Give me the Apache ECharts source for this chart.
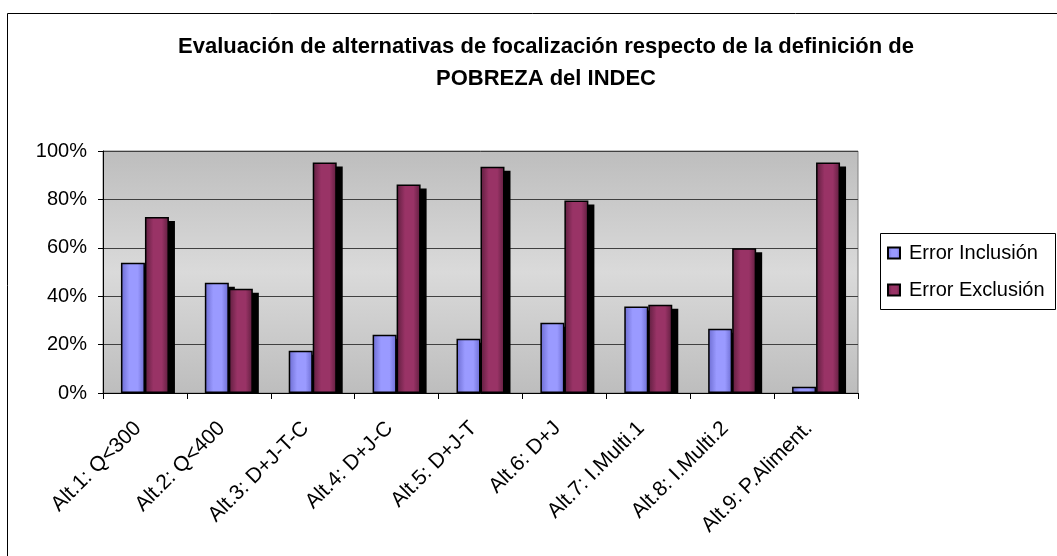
<!DOCTYPE html>
<html>
<head>
<meta charset="utf-8">
<script src="https://cdn.jsdelivr.net/npm/echarts@6/dist/echarts.min.js"></script>
<style>
html,body{margin:0;padding:0;background:#fff;}
#chart{width:1057px;height:556px;}
</style>
</head>
<body>
<div id="chart"></div>
<script>
// datos
var categorias = ['Alt.1: Q<300', 'Alt.2: Q<400', 'Alt.3: D+J-T-C', 'Alt.4: D+J-C', 'Alt.5: D+J-T', 'Alt.6: D+J', 'Alt.7: I.Multi.1', 'Alt.8: I.Multi.2', 'Alt.9: P.Aliment.'];
var errorInclusion = [53.8, 45.6, 17.5, 24.1, 22.4, 29.0, 35.7, 26.6, 2.6];
var errorExclusion = [72.7, 43.1, 95.2, 86.2, 93.5, 79.5, 36.5, 59.8, 95.2];
var nombres = ['Error Inclusión', 'Error Exclusión'];

var fuente = 'Liberation Sans, Arial, sans-serif';

function degradado(oscuro, claro) {
	return new echarts.graphic.LinearGradient(0, 0, 1, 0, [
		{offset: 0, color: oscuro},
		{offset: 0.35, color: claro},
		{offset: 0.7, color: claro},
		{offset: 1, color: oscuro}
	]);
}

// sombra negra de cada barra (desplazada a la derecha y abajo)
function sombra(lado) {
	return function(params, api) {
		var i = api.value(0);
		var arriba = api.coord([i, api.value(1)]);
		var base = api.coord([i, 0]);
		return {
			type: 'rect',
			shape: {x: arriba[0] + lado + 6, y: arriba[1] + 4, width: 24, height: base[1] - arriba[1] - 4},
			style: {fill: '#000'}
		};
	};
}

var datosSombra1 = errorInclusion.map(function(v, i) { return [i, v]; });
var datosSombra2 = errorExclusion.map(function(v, i) { return [i, v]; });

var myChart = echarts.init(document.getElementById('chart'));
var option = {
	backgroundColor: '#fff',
	animation: false,
	title: {
		text: 'Evaluación de alternativas de focalización respecto de la definición de\nPOBREZA del INDEC',
		left: 541,
		top: 26,
		textAlign: 'center',
		textStyle: {
			fontFamily: fuente,
			fontSize: 22,
			fontWeight: 'bold',
			color: '#000',
			lineHeight: 32
		}
	},
	graphic: [{
		type: 'rect',
		shape: {x: 7.5, y: 13.5, width: 1100, height: 600},
		style: {fill: 'none', stroke: '#000', lineWidth: 1},
		silent: true,
		z: -1
	}, {
		type: 'rect',
		shape: {x: 880.5, y: 233.5, width: 175, height: 76},
		style: {fill: 'none', stroke: '#000', lineWidth: 1},
		silent: true
	}],
	legend: {
		data: nombres,
		orient: 'vertical',
		left: 880,
		top: 233,
		padding: [10, 0, 9, 7],
		itemGap: 17,
		itemWidth: 12,
		itemHeight: 11,
		icon: 'rect',
		textStyle: {fontFamily: fuente, fontSize: 20, color: '#000', padding: [0, 0, 0, 4]}
	},
	grid: {
		left: 103,
		right: 199,
		top: 151,
		bottom: 163,
		show: true,
		borderColor: '#808080',
		borderWidth: 1,
		backgroundColor: new echarts.graphic.LinearGradient(0, 0, 0, 1, [
			{offset: 0, color: '#bdbdbd'},
			{offset: 0.5, color: '#dadada'},
			{offset: 1, color: '#bdbdbd'}
		])
	},
	xAxis: {
		type: 'category',
		data: categorias,
		axisLine: {lineStyle: {color: '#000'}},
		axisTick: {show: true, length: 6, lineStyle: {color: '#000'}},
		axisLabel: {
			rotate: 45,
			interval: 0,
			margin: 25,
			padding: [0, 10, 0, 0],
			fontFamily: fuente,
			fontSize: 21,
			color: '#000'
		}
	},
	yAxis: {
		type: 'value',
		min: 0,
		max: 100,
		interval: 20,
		axisLine: {show: true, lineStyle: {color: '#000'}},
		axisTick: {show: true, length: 5, lineStyle: {color: '#000'}},
		splitLine: {lineStyle: {color: '#404040', width: 1}},
		axisLabel: {
			formatter: '{value}%',
			margin: 16,
			fontFamily: fuente,
			fontSize: 20,
			color: '#000'
		}
	},
	series: [{
		name: 'sombra1',
		type: 'custom',
		renderItem: sombra(-24),
		data: datosSombra1,
		clip: true,
		silent: true,
		z: 1
	}, {
		name: 'sombra2',
		type: 'custom',
		renderItem: sombra(0),
		data: datosSombra2,
		clip: true,
		silent: true,
		z: 1
	}, {
		name: nombres[0],
		type: 'bar',
		data: errorInclusion,
		barWidth: 24,
		barGap: '0%',
		z: 2,
		itemStyle: {
			color: degradado('#6b6bd0', '#9a9aff'),
			borderColor: '#000',
			borderWidth: 1.5
		}
	}, {
		name: nombres[1],
		type: 'bar',
		data: errorExclusion,
		barWidth: 24,
		barGap: '0%',
		z: 2,
		itemStyle: {
			color: degradado('#5e1e3e', '#993366'),
			borderColor: '#000',
			borderWidth: 1.5
		}
	}]
};
myChart.setOption(option);
</script>
</body>
</html>
